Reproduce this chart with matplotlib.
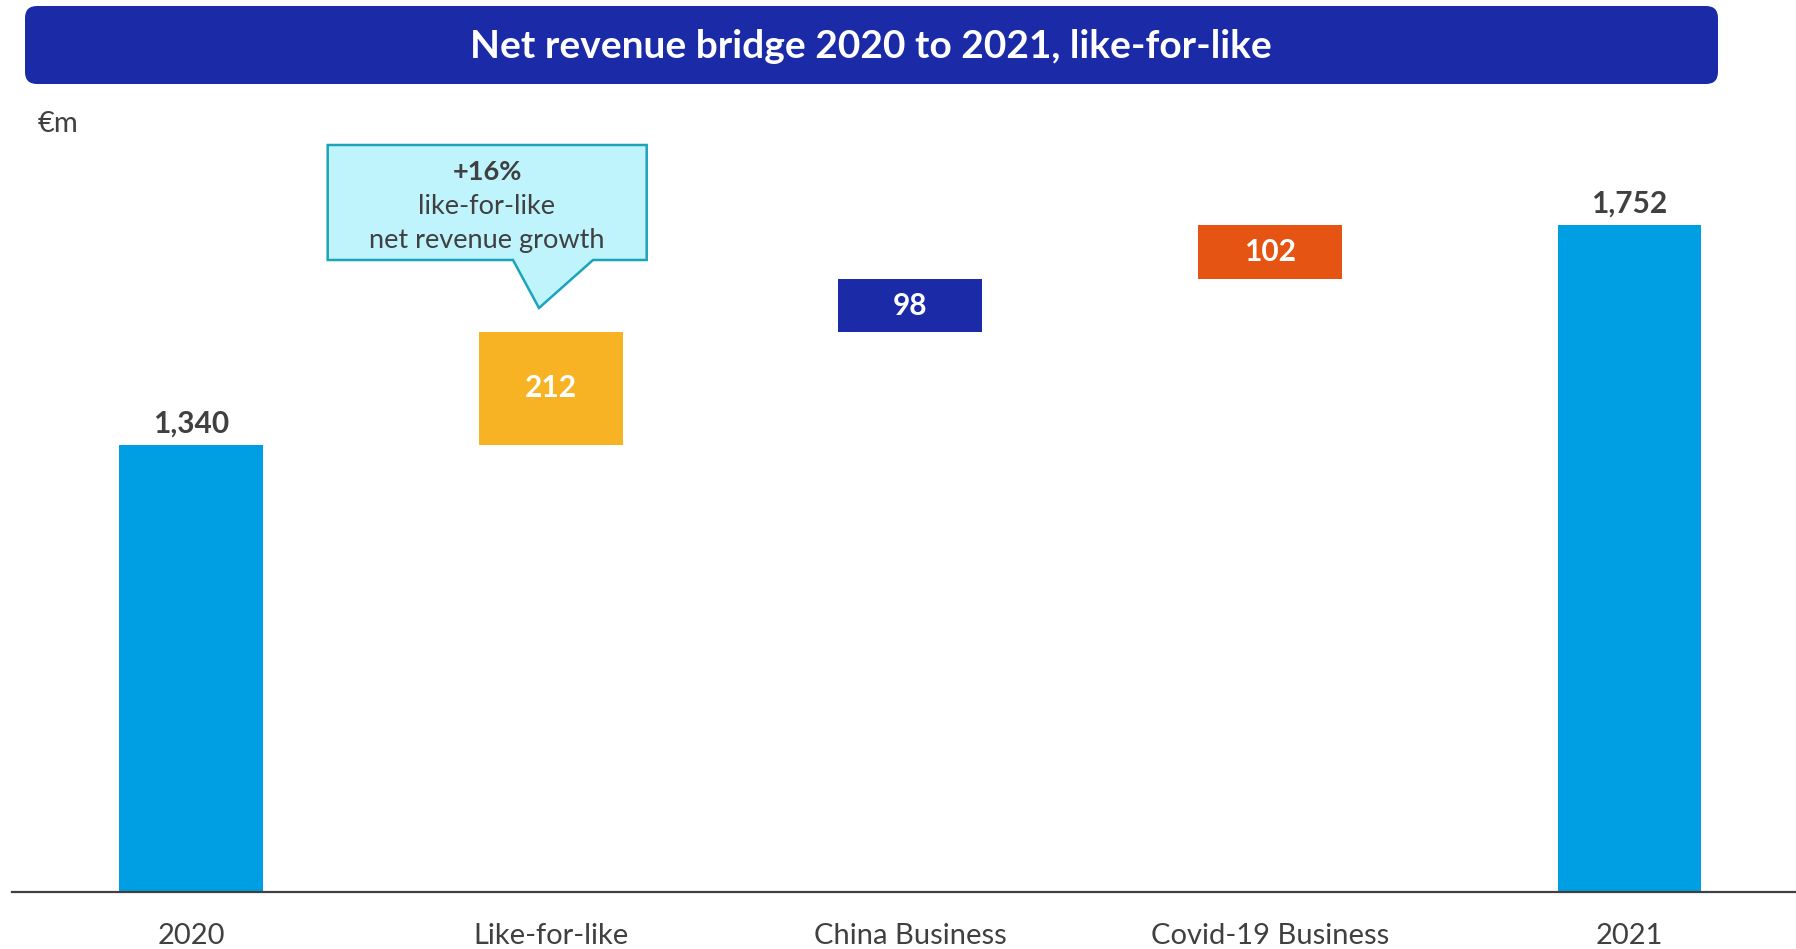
"""Net revenue bridge 2020 -> 2021 (like-for-like), drawn as a waterfall."""
import matplotlib

matplotlib.use("Agg")
import matplotlib.pyplot as plt
from matplotlib.patches import FancyBboxPatch, Polygon
from matplotlib.transforms import IdentityTransform

W, H = 1796, 949
plt.rcParams["font.family"] = ["Lato", "DejaVu Sans"]

categories = ["2020", "Like-for-like", "China Business", "Covid-19 Business", "2021"]
values = [1340, 212, 98, 102, 1752]
is_total = [True, False, False, False, True]
bar_colors = ["#009FE3", "#F8B325", "#1B2AA6", "#E55413", "#009FE3"]
growth_pct = 16

INK = "#404040"
TITLE_BLUE = "#1B2AA6"
CALLOUT_FILL = "#C0F4FD"
CALLOUT_EDGE = "#1AA3BA"


def px(x, y):
    """pixel position measured from the top-left corner -> display coords"""
    return x, H - y


fig = plt.figure(figsize=(W / 100, H / 100), dpi=100)
ax = fig.add_axes([11.5 / W, 1 - 892 / H, 1 - 11.5 / W, (892 - 100) / H])

# waterfall: totals sit on the (broken) baseline, deltas float on the running sum
bottoms, running = [], 0
for v, tot in zip(values, is_total):
    if tot:
        bottoms.append(0)
        running = v
    else:
        bottoms.append(running)
        running += v

x = list(range(len(categories)))
ax.bar(x, values, bottom=bottoms, width=0.4, color=bar_colors, zorder=2)

for xi, v, b, tot in zip(x, values, bottoms, is_total):
    if tot:
        ax.annotate(f"{v:,}", xy=(xi, b + v), xytext=(0, 5), textcoords="offset points",
                    ha="center", va="bottom", fontsize=21.5, fontweight="bold", color=INK)
    else:
        ax.text(xi, b + v / 2, f"{v:,}", ha="center", va="center", fontsize=21.5,
                fontweight="bold", color="white")

ax.set_xlim(-0.5, 4.463)
ax.set_ylim(503, 1986)
ax.set_xticks(x)
ax.set_xticklabels(categories, fontsize=21, color=INK)
ax.tick_params(axis="x", length=0, pad=22)
ax.set_yticks([])
for s in ("top", "right", "left"):
    ax.spines[s].set_visible(False)
ax.spines["bottom"].set_color(INK)
ax.spines["bottom"].set_linewidth(1.6)

# title banner
bx0, by0 = px(25, 84)
fig.patches.append(FancyBboxPatch((bx0, by0), 1718 - 25, 84 - 6,
                                  boxstyle="round,pad=0,rounding_size=12",
                                  transform=IdentityTransform(), facecolor=TITLE_BLUE,
                                  edgecolor="none", figure=fig))
fig.text(*px(871, 46), "Net revenue bridge 2020 to 2021, like-for-like",
         transform=IdentityTransform(), ha="center", va="center", fontsize=28,
         fontweight="bold", color="white")

fig.text(*px(58, 124), "€m", transform=IdentityTransform(), ha="center", va="center",
         fontsize=21, color=INK)

# speech-bubble callout pointing at the like-for-like bar
bubble = [px(327.7, 145), px(646.7, 145), px(646.7, 260), px(593, 260),
          px(539, 308), px(513, 260), px(327.7, 260)]
fig.patches.append(Polygon(bubble, closed=True, transform=IdentityTransform(),
                           facecolor=CALLOUT_FILL, edgecolor=CALLOUT_EDGE, lw=1.8,
                           figure=fig))
fig.text(*px(487, 172.5), f"+{growth_pct}%", transform=IdentityTransform(),
         ha="center", va="center", fontsize=19.5, fontweight="bold", color=INK)
fig.text(*px(487, 206.5), "like-for-like", transform=IdentityTransform(),
         ha="center", va="center", fontsize=19.5, color=INK)
fig.text(*px(487, 240.5), "net revenue growth", transform=IdentityTransform(),
         ha="center", va="center", fontsize=19.5, color=INK)

fig.savefig("out.png", dpi=100)
